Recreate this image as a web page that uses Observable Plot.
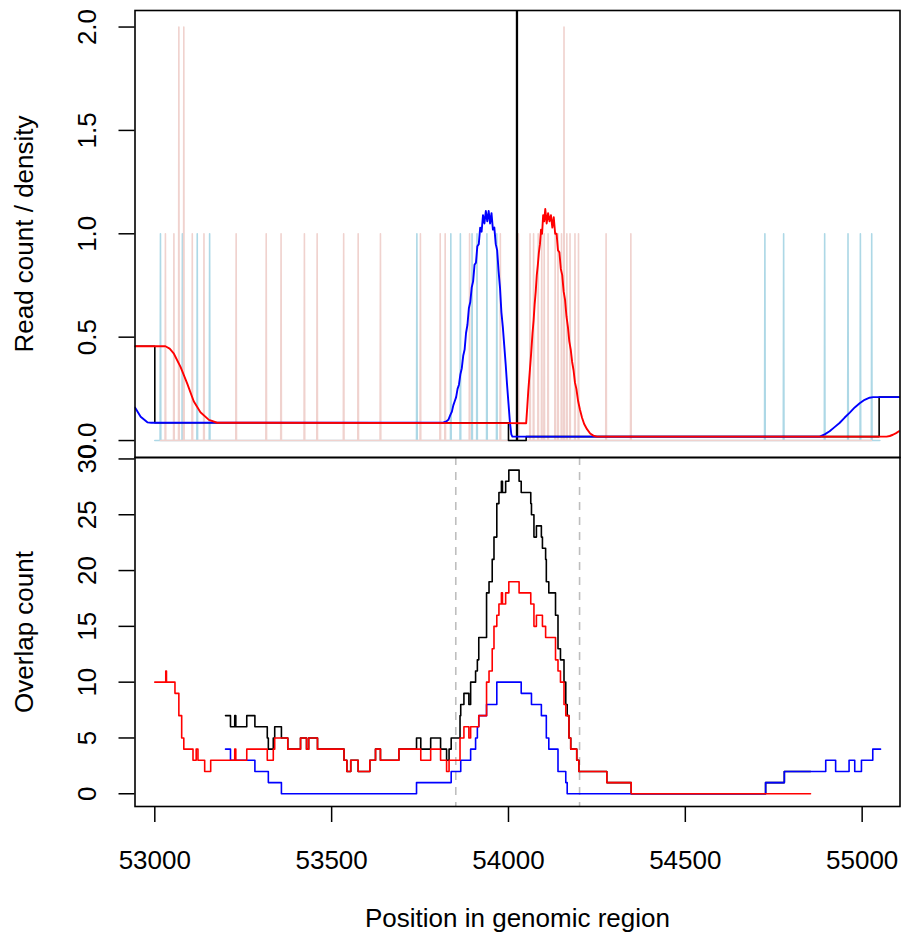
<!DOCTYPE html>
<html><head><meta charset="utf-8">
<script src="https://cdn.jsdelivr.net/npm/d3@7"></script>
<script src="https://cdn.jsdelivr.net/npm/@observablehq/plot@0.6"></script>
<style>
body{margin:0;background:#fff;}
#chart{position:relative;width:901px;height:933px;font-family:"Liberation Sans",Arial,sans-serif;}
#chart svg{position:absolute;left:0;overflow:visible;background:none;}
</style></head><body><div id="chart"></div>
<script>
// ---------- axis ticks ----------
const xTicks = [53000, 53500, 54000, 54500, 55000];
const topYTicks = [0, 0.5, 1, 1.5, 2];
const bottomYTicks = [0, 5, 10, 15, 20, 25, 30];
const xDomain = [52944, 55107];

// ---------- top panel: read start positions (spikes) ----------
const plusReadPos = [53016, 53078, 53120, 53155, 53741, 53837, 53864, 53897, 53911, 53939, 53967, 54725, 54778, 54894, 54960, 54995, 55027];
const plusReadCount = [1,1,1,1,1,1,1,1,1,1,1,1,1,1,1,1,1];
const plusRange = [53000, 55050];
const minusReadPos = [53030, 53054, 53068, 53082, 53106, 53139, 53230, 53315, 53357, 53423, 53459, 53534, 53575, 53638, 53751, 53807, 53821, 53890, 53977, 54028, 54061, 54071, 54084, 54094, 54101, 54112, 54132, 54140, 54150, 54157, 54165, 54174, 54188, 54198, 54276, 54346];
const minusReadCount = [1,1,2,2,1,1,1,1,1,1,1,1,1,1,1,1,1,1,1,1,1,1,1,1,1,1,1,1,1,2,1,1,1,1,1,1];
const minusRange = [53016, 55026];

// ---------- top panel: densities ----------
const plusDensPos = [52944,52960,52979,52990,53816,53824,53830,53836,53840,53844,53848,53852,53856,53860,53864,53868,53872,53876,53880,53884,53888,53892,53896,53900,53904,53908,53912,53916,53920,53924,53928,53932,53936,53940,53944,53948,53952,53956,53960,53964,53968,53972,53976,53980,53984,53988,53992,53996,54000,54004,54008,54011,54880,54894,54908,54922,54936,54950,54965,54979,54993,55007,55021,55031,55110];
const plusDensVal = [0.16,0.115,0.088,0.086,0.088,0.092,0.10,0.125,0.14,0.17,0.19,0.21,0.25,0.27,0.32,0.35,0.41,0.44,0.52,0.56,0.64,0.67,0.74,0.77,0.85,0.86,0.94,0.95,1.03,1.01,1.09,1.05,1.11,1.06,1.11,1.05,1.10,1.02,1.03,0.95,0.92,0.82,0.74,0.62,0.55,0.46,0.37,0.27,0.18,0.09,0.03,0.019,0.019,0.03,0.045,0.065,0.085,0.11,0.135,0.16,0.18,0.197,0.207,0.21,0.21];
const minusDensPos = [52944,53030,53042,53054,53073,53092,53110,53129,53153,53176,54050,54053,54056,54060,54064,54068,54071,54074,54077,54080,54083,54086,54089,54092,54095,54098,54101,54104,54108,54112,54116,54120,54124,54128,54132,54136,54140,54144,54148,54152,54156,54160,54164,54168,54172,54176,54180,54184,54188,54192,54197,54202,54208,54214,54222,54231,54240,54250,55069,55078,55087,55096,55104,55110];
const minusDensVal = [0.456,0.456,0.445,0.42,0.355,0.274,0.19,0.137,0.1,0.086,0.084,0.16,0.24,0.33,0.42,0.52,0.58,0.66,0.72,0.80,0.85,0.91,0.95,1.02,1.0,1.09,1.06,1.12,1.05,1.10,1.06,1.09,1.03,1.08,1.0,1.0,0.92,0.91,0.83,0.8,0.72,0.68,0.6,0.55,0.48,0.44,0.38,0.34,0.28,0.25,0.19,0.15,0.11,0.08,0.055,0.034,0.024,0.019,0.019,0.022,0.028,0.036,0.045,0.047];
const combinedPos = [52944,53000,53000,54000,54000,54023,54023,54025,54025,54050,54050,55048,55048,55110];
const combinedVal = [0.456,0.456,0.086,0.086,0,0,2.3,2.3,0,0,0.019,0.019,0.21,0.21];

// ---------- bottom panel: overlap counts (step functions) ----------
const minusOvPos = [53000,53031,53033,53057,53068,53076,53082,53108,53117,53122,53141,53158,53226,53229,53260,53318,53335,53339,53376,53412,53429,53435,53460,53535,53543,53554,53575,53608,53624,53638,53690,53752,53780,53808,53825,53832,53863,53874,53888,53893,53916,53938,53945,53954,53959,53967,53973,53980,53983,53992,54001,54030,54063,54072,54079,54096,54105,54133,54140,54147,54157,54162,54171,54176,54193,54199,54278,54347,54854];
const minusOvVal = [10,11,10,9,7,5,4,3,4,3,2,3,4,3,4,3,4,5,4,5,4,5,4,3,2,3,2,3,4,3,4,3,4,3,2,3,5,6,5,6,7,10,11,13,15,16,17,18,17,18,19,18,17,15,16,15,14,12,11,10,8,7,5,4,3,2,1,0,0];
const plusOvPos = [53200,53214,53283,53321,53358,53740,53838,53865,53893,53907,53912,53916,53938,53967,54036,54065,54093,54107,54114,54140,54162,54166,54727,54780,54897,54925,54963,54979,54998,55030,55052];
const plusOvVal = [4,3,2,1,0,1,2,3,4,5,6,7,8,10,9,8,7,5,4,2,1,0,1,2,3,2,3,2,3,4,4];
const totalOvPos = [53200,53214,53226,53229,53260,53283,53318,53321,53335,53339,53358,53376,53412,53429,53435,53460,53535,53543,53554,53575,53608,53624,53638,53690,53740,53752,53780,53808,53825,53832,53838,53863,53865,53874,53888,53893,53907,53912,53916,53938,53945,53954,53959,53967,53973,53980,53983,53992,54001,54030,54036,54063,54065,54072,54079,54093,54096,54105,54107,54114,54133,54140,54147,54157,54162,54166,54171,54176,54193,54199,54278,54347,54727,54780,54854];
const totalOvVal = [7,6,7,6,7,6,5,4,5,6,5,4,5,4,5,4,3,2,3,2,3,4,3,4,5,4,5,4,3,4,5,7,8,9,8,10,11,12,14,18,19,21,23,26,27,28,27,28,29,28,27,26,25,23,24,23,22,21,19,18,16,13,12,10,8,7,5,4,3,2,1,0,1,2,2];
const peakBounds = [53851, 54201];

// ---------- helpers ----------
const fmt1 = d3.format(".1f");
const FS = 26;
function spikes(pos, cnt, range) {
  const pts = [{x: range[0], y: 0}];
  pos.forEach((p, i) => { pts.push({x: p - 1, y: 0}, {x: p, y: cnt[i]}, {x: p + 1, y: 0}); });
  pts.push({x: range[1], y: 0});
  return pts;
}
const zip = (xs, ys) => xs.map((x, i) => ({x, y: ys[i]}));
const chartEl = document.getElementById("chart");
const fontFam = "Liberation Sans, Arial, Helvetica, sans-serif";

// ---------- top panel ----------
const topPlot = Plot.plot({
  width: 901, height: 457,
  marginLeft: 134.5, marginRight: 1.5, marginTop: 10, marginBottom: 0,
  style: {fontFamily: fontFam, background: "none"},
  x: {domain: xDomain, axis: null},
  y: {domain: [-0.082, 2.080], axis: null},
  marks: [
    Plot.line(spikes(plusReadPos, plusReadCount, plusRange), {x: "x", y: "y", stroke: "#ADD8E6", strokeWidth: 1.6, clip: true}),
    Plot.line(spikes(minusReadPos, minusReadCount, minusRange), {x: "x", y: "y", stroke: "#F0D2CE", strokeWidth: 1.6, clip: true}),
    Plot.line(zip(combinedPos, combinedVal), {x: "x", y: "y", stroke: "black", strokeWidth: 1.6, clip: true}),
    Plot.line(zip(plusDensPos, plusDensVal), {x: "x", y: "y", stroke: "#0000FF", strokeWidth: 1.9, clip: true}),
    Plot.line(zip(minusDensPos, minusDensVal), {x: "x", y: "y", stroke: "#FF0000", strokeWidth: 1.9, clip: true}),
    Plot.axisY({ticks: topYTicks, tickSize: 16, tickFormat: () => "", strokeWidth: 1.5, label: null}),
    Plot.text(topYTicks, {y: d => d, frameAnchor: "left", dx: -47, rotate: -90, text: d => fmt1(d), fontSize: FS, textAnchor: "middle", lineAnchor: "middle", fill: "black"}),
    Plot.text(["Read count / density"], {frameAnchor: "left", dx: -110, rotate: -90, text: d => d, fontSize: FS, textAnchor: "middle", lineAnchor: "middle", fill: "black"}),
    Plot.frame({stroke: "black", strokeWidth: 1.6})
  ]
});
topPlot.style.top = "0px";

// ---------- bottom panel ----------
const bottomPlot = Plot.plot({
  width: 901, height: 476,
  marginLeft: 134.5, marginRight: 1.5, marginTop: 0, marginBottom: 127,
  style: {fontFamily: fontFam, background: "none"},
  x: {domain: xDomain, axis: null},
  y: {domain: [-1.14, 30.13], axis: null},
  marks: [
    Plot.ruleX(peakBounds, {stroke: "#BEBEBE", strokeWidth: 1.6, strokeDasharray: "8,7"}),
    Plot.line(zip(totalOvPos, totalOvVal), {x: "x", y: "y", curve: "step-after", stroke: "black", strokeWidth: 1.6}),
    Plot.line(zip(plusOvPos, plusOvVal), {x: "x", y: "y", curve: "step-after", stroke: "#0000FF", strokeWidth: 1.6}),
    Plot.line(zip(minusOvPos, minusOvVal), {x: "x", y: "y", curve: "step-after", stroke: "#FF0000", strokeWidth: 1.6}),
    Plot.axisY({ticks: bottomYTicks, tickSize: 16, tickFormat: () => "", strokeWidth: 1.5, label: null}),
    Plot.text(bottomYTicks, {y: d => d, frameAnchor: "left", dx: -47, rotate: -90, text: d => String(d), fontSize: FS, textAnchor: "middle", lineAnchor: "middle", fill: "black"}),
    Plot.text(["Overlap count"], {frameAnchor: "left", dx: -110, rotate: -90, text: d => d, fontSize: FS, textAnchor: "middle", lineAnchor: "middle", fill: "black"}),
    Plot.axisX({ticks: xTicks, tickSize: 16, tickPadding: 28, tickFormat: d => String(d), fontSize: FS, strokeWidth: 1.5, label: null}),
    Plot.text(["Position in genomic region"], {frameAnchor: "bottom", dy: 112, text: d => d, fontSize: FS, textAnchor: "middle", lineAnchor: "middle", fill: "black"}),
    Plot.frame({stroke: "black", strokeWidth: 1.6})
  ]
});
bottomPlot.style.top = "457px";

chartEl.appendChild(bottomPlot);
chartEl.appendChild(topPlot);
</script></body></html>
